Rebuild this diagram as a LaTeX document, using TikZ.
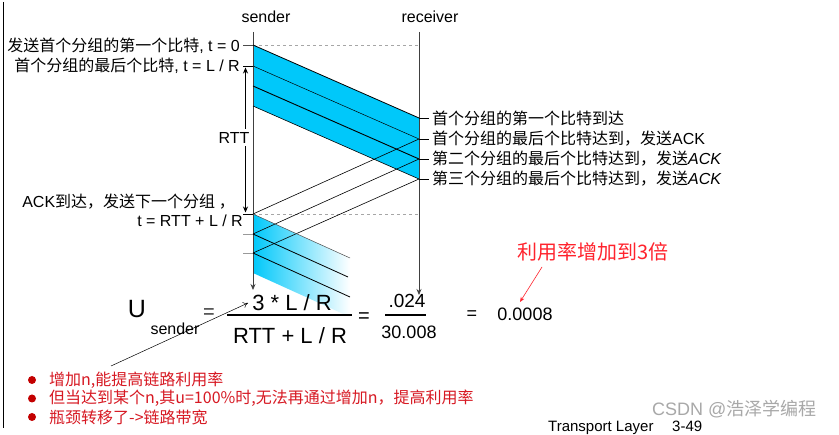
\documentclass[tikz,border=0pt]{standalone}
\usepackage{fontspec}
\setmainfont{Liberation Sans}
\newfontfamily\cjk{Noto Sans CJK SC}
\usetikzlibrary{arrows.meta}
\definecolor{pktblue}{RGB}{0,200,250}
\definecolor{bulred}{RGB}{195,0,0}
\definecolor{txtred}{RGB}{215,25,35}
\definecolor{notered}{RGB}{255,35,45}
\definecolor{axisgray}{RGB}{100,100,100}
\newcommand{\zh}[1]{{\cjk\fontsize{16}{18}\selectfont #1}}
\begin{document}
\begin{tikzpicture}[x=1pt,y=-1pt,
  lab/.style={inner sep=0pt, font=\fontsize{16}{18}\selectfont},
  formula/.style={inner sep=0pt, font=\fontsize{22}{26}\selectfont},
  num/.style={inner sep=0pt, font=\fontsize{18}{22}\selectfont},
  axis/.style={draw=axisgray, line width=0.8pt},
  tickmark/.style={draw=black, line width=0.7pt},
  graytick/.style={draw=gray!80, line width=0.7pt},
  dashline/.style={draw=gray!70, line width=0.8pt, dash pattern=on 3pt off 3pt},
  pktline/.style={draw=black, line width=0.6pt},
  bullettext/.style={inner sep=0pt, anchor=west, text=txtred, font=\cjk\fontsize{16}{18}\selectfont},
  bulletdot/.style={circle, fill=bulred, inner sep=0pt, minimum size=8pt}]
\useasboundingbox (0,0) rectangle (839,435);
\clip (0,0) rectangle (839,435);
\fill[white] (0,0) rectangle (839,435);

% left border
\coordinate (B0) at (3,2);
\coordinate (B1) at (3,428);
\draw[black, line width=0.9pt] (B0) -- (B1);

% key coordinates
\coordinate (Stop) at (253,32);
\coordinate (Sbot) at (253,290);
\coordinate (Rtop) at (419,32);
\coordinate (Rbot) at (419,295);
\coordinate (S0) at (253,45);
\coordinate (S1) at (253,66);
\coordinate (S2) at (253,86);
\coordinate (S3) at (253,106);
\coordinate (R0) at (419,118);
\coordinate (R1) at (419,139);
\coordinate (R2) at (419,159);
\coordinate (R3) at (419,179);
\coordinate (A1) at (253,214);
\coordinate (A2) at (253,234);
\coordinate (A3) at (253,253);
\coordinate (A4) at (253,273);
\coordinate (E1) at (350,258);
\coordinate (E2) at (348,277);
\coordinate (E3) at (350,297);
\coordinate (E4) at (350,317);
\coordinate (D0) at (419,45);
\coordinate (D1) at (419,214);

% first window
\fill[pktblue] (S0) -- (R0) -- (R3) -- (S3) -- cycle;
% second window (fading)
\shade[left color=pktblue, right color=white] (A1) -- (E1) -- (E4) -- (A4) -- cycle;

% dashed lines
\draw[dashline] (S0) -- (D0);
\draw[dashline] (A1) -- (D1);

% sender / receiver axes
\draw[axis, -{Stealth[length=6pt,width=5pt]}, draw=black!75] (Stop) -- (Sbot);
\draw[axis, -{Stealth[length=6pt,width=5pt]}, draw=black!75] (Rtop) -- (Rbot);

% packet lines
\draw[pktline, line width=0.8pt] (S0) -- (R0);
\draw[pktline, line width=0.5pt] (S1) -- (R1);
\draw[pktline, line width=0.9pt] (S2) -- (R2);
\draw[pktline, line width=0.6pt] (S3) -- (R3);

% ACK lines
\draw[pktline] (R1) -- (A1);
\draw[pktline] (R2) -- (A2);
\draw[pktline] (R3) -- (A3);

% second window lines
\draw[pktline, draw=black!70, line width=0.5pt] (A1) -- (E1);
\draw[pktline, line width=0.8pt] (A2) -- (E2);
\draw[pktline, line width=0.8pt] (A3) -- (E3);

% ticks at sender
\coordinate (T0) at (243,45);
\coordinate (T1) at (243,66);
\coordinate (T2) at (243,214);
\coordinate (T3) at (243,234);
\coordinate (T4) at (243,253);
\draw[tickmark, draw=black!70] (T0) -- (S0);
\draw[tickmark] (T1) -- (S1);
\draw[tickmark] (T2) -- (A1);
\draw[graytick] (T3) -- (A2);
\draw[graytick] (T4) -- (A3);

% ticks at receiver
\foreach \n/\yy in {0/118,1/139,2/159,3/179} {
  \coordinate (Q\n) at (429,\yy);
}
\draw[tickmark] (R0) -- (Q0);
\draw[tickmark] (R1) -- (Q1);
\draw[tickmark] (R2) -- (Q2);
\draw[tickmark] (R3) -- (Q3);

% RTT arrow
\coordinate (RT0) at (245.5,67.5);
\coordinate (RT1) at (245.5,212.5);
\draw[black, line width=0.6pt, {Stealth[length=6pt,width=5pt]}-{Stealth[length=6pt,width=5pt]}] (RT0) -- (RT1);
\node[lab, fill=white, inner ysep=3pt, inner xsep=1pt] (rtt) at (234,138) {RTT};

% headings
\node[lab] (sender) at (266,17) {sender};
\node[lab] (receiver) at (430,17) {receiver};

% left labels
\node[lab, anchor=east] (l0) at (240,45.5) {\zh{发送首个分组的第一个比特}, t = 0};
\node[lab, anchor=east] (l1) at (240,66) {\zh{首个分组的最后个比特}, t = L / R};
\node[lab, anchor=east] (l2) at (235,202) {ACK\zh{到达，发送下一个分组 ，}};
\node[lab, anchor=east] (l3) at (243,221) {t = RTT + L / R};

% right labels
\node[lab, anchor=west] (r0) at (432,118) {\zh{首个分组的第一个比特到达}};
\node[lab, anchor=west] (r1) at (432,139) {\zh{首个分组的最后个比特达到，发送}ACK};
\node[lab, anchor=west] (r2) at (432,159) {\zh{第二个分组的最后个比特达到，发送}\textit{ACK}};
\node[lab, anchor=west] (r3) at (432,179) {\zh{第三个分组的最后个比特达到，发送}\textit{ACK}};

% formula
\node[inner sep=0pt, font=\fontsize{25}{28}\selectfont] (U) at (137,309) {U};
\node[inner sep=0pt, font=\fontsize{16}{18}\selectfont] (Usub) at (175,329) {sender};
\node[inner sep=0pt, font=\fontsize{20}{22}\selectfont, text=black!80] (eq1) at (209,314) {=};
\coordinate (F0) at (227,315);
\coordinate (F1) at (352,315);
\draw[black, line width=2pt] (F0) -- (F1);
\node[formula] (numer) at (292,303) {3 * L / R};
\node[formula] (denom) at (290,336) {RTT + L / R};
\node[inner sep=0pt, font=\fontsize{20}{22}\selectfont] (eq2) at (364,318) {=};
\node[num, font=\fontsize{19}{22}\selectfont] (n2) at (407,301) {.024};
\coordinate (G0) at (385,315);
\coordinate (G1) at (426,315);
\draw[black, line width=1.5pt] (G0) -- (G1);
\node[num] (d2) at (409,332) {30.008};
\node[inner sep=0pt, font=\fontsize{18}{22}\selectfont] (eq3) at (472,315) {=};
\node[num] (res) at (525,314) {0.0008};

% red note
\node[inner sep=0pt, text=notered, font=\cjk\fontsize{20}{24}\selectfont] (note) at (593,252) {利用率增加到3倍};
\coordinate (N0) at (542,267);
\coordinate (N1) at (520,302);
\draw[notered, line width=0.6pt, -{Stealth[length=5pt,width=4pt]}] (N0) -- (N1);

% long arrow from bullets
\coordinate (P0) at (111,366);
\coordinate (P1) at (248,303);
\draw[black, line width=0.5pt, -{To[length=5pt,width=6pt]}] (P0) -- (P1);

% bullets
\node[bulletdot] (b1) at (32,380) {};
\node[bulletdot] (b2) at (32,398.5) {};
\node[bulletdot] (b3) at (32,417) {};
\node[bullettext] (bt1) at (49,380) {增加n,能提高链路利用率};
\node[bullettext] (bt2) at (49,398.5) {但当达到某个n,其u=100\%时,无法再通过增加n，提高利用率};
\node[bullettext] (bt3) at (49,417) {瓶颈转移了->链路带宽};

% footer
\node[inner sep=0pt, anchor=base west, font=\fontsize{15}{18}\selectfont] (foot) at (548,432) {Transport Layer};
\node[inner sep=0pt, anchor=base west, font=\fontsize{15}{18}\selectfont] (page) at (672,432) {3-49};
\node[inner sep=0pt, anchor=west, text=gray!75, opacity=0.9, font=\fontsize{18}{22}\selectfont] (wm) at (652,409) {CSDN @{\cjk 浩泽学编程}};
\end{tikzpicture}
\end{document}
